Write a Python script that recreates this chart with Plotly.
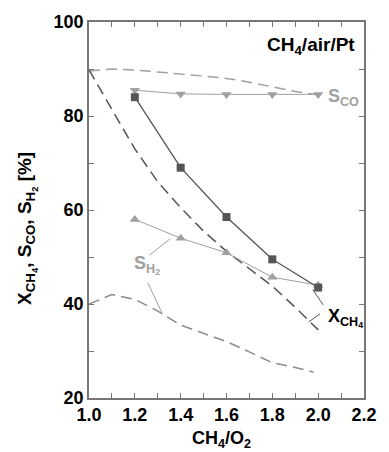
import plotly.graph_objects as go

# Experimental data
ratio_exp = [1.2, 1.4, 1.6, 1.8, 2.0]
x_ch4_exp = [84.0, 69.0, 58.5, 49.5, 43.5]
s_co_exp = [85.5, 84.7, 84.6, 84.6, 84.6]
s_h2_exp = [58.0, 54.0, 50.9, 45.7, 44.0]

# Model curves
ratio_mod = [1.0, 1.1, 1.2, 1.3, 1.4, 1.5, 1.6, 1.7, 1.8, 1.9, 2.0]
x_ch4_mod = [89.8, 81.5, 73.0, 66.0, 60.5, 55.5, 51.2, 47.5, 43.8, 39.3, 34.5]
s_co_mod = [89.6, 90.0, 89.8, 89.4, 89.0, 88.5, 88.0, 87.2, 86.2, 85.2, 84.5]
ratio_h2m = [1.0, 1.1, 1.2, 1.3, 1.4, 1.5, 1.6, 1.7, 1.8, 1.9, 1.98]
s_h2_mod = [40.0, 42.0, 41.0, 38.5, 35.5, 33.8, 32.0, 29.8, 27.5, 26.5, 25.5]

FONT = "Liberation Sans, Arial, sans-serif"
DARK = "#555555"
LIGHT = "#a0a0a0"
MID = "#8c8c8c"

fig = go.Figure()
fig.add_trace(go.Scatter(x=ratio_mod, y=s_co_mod, mode="lines",
                         line=dict(color=LIGHT, width=1.5, dash="11px,6px")))
fig.add_trace(go.Scatter(x=ratio_mod, y=x_ch4_mod, mode="lines",
                         line=dict(color=DARK, width=1.5, dash="11px,6px")))
fig.add_trace(go.Scatter(x=ratio_h2m, y=s_h2_mod, mode="lines",
                         line=dict(color=MID, width=1.5, dash="11px,6px")))
fig.add_trace(go.Scatter(x=ratio_exp, y=s_h2_exp, mode="lines+markers",
                         line=dict(color=LIGHT, width=1),
                         marker=dict(symbol="triangle-up", size=9, color=LIGHT)))
fig.add_trace(go.Scatter(x=ratio_exp, y=s_co_exp, mode="lines+markers",
                         line=dict(color=LIGHT, width=1),
                         marker=dict(symbol="triangle-down", size=9, color=LIGHT)))
fig.add_trace(go.Scatter(x=ratio_exp, y=x_ch4_exp, mode="lines+markers",
                         line=dict(color=DARK, width=1.3),
                         marker=dict(symbol="square", size=8, color=DARK)))

# leader lines
leaders = [
    ((1.976, 43.1), (2.022, 39.8), DARK),
    ((1.959, 36.2), (2.008, 37.9), DARK),
    ((1.264, 50.4), (1.355, 53.9), LIGHT),
    ((1.257, 44.5), (1.32, 37.9), LIGHT),
]
for (x0, y0), (x1, y1), c in leaders:
    fig.add_shape(type="line", xref="x", yref="y", x0=x0, y0=y0, x1=x1, y1=y1,
                  line=dict(color=c, width=1))

bold = dict(family=FONT, size=18, color="black", weight="bold")
annos = [
    dict(text="CH<sub>4</sub>/air/Pt", x=2.17, y=94.8, xanchor="right", yanchor="middle",
         font=dict(family=FONT, size=19, color="black", weight="bold")),
    dict(text="S<sub>CO</sub>", x=2.035, y=84.0, xanchor="left", yanchor="middle",
         font=dict(family=FONT, size=18, color=LIGHT, weight="bold")),
    dict(text="S<sub>H<sub>2</sub></sub>", x=1.255, y=48.3, xanchor="center", yanchor="middle",
         font=dict(family=FONT, size=18, color=LIGHT, weight="bold")),
    dict(text="X<sub>CH<sub>4</sub></sub>", x=2.035, y=37.0, xanchor="left", yanchor="middle",
         font=dict(family=FONT, size=18, color="black", weight="bold")),
]
for a in annos:
    fig.add_annotation(xref="x", yref="y", showarrow=False, **a)

fig.add_annotation(xref="paper", yref="paper", x=-0.225, y=0.45, textangle=-90,
                   text="X<sub>CH<sub>4</sub></sub>, S<sub>CO</sub>, S<sub>H<sub>2</sub></sub> [%]",
                   showarrow=False, xanchor="center", yanchor="middle",
                   font=dict(family=FONT, size=19, color="black", weight="bold"))
fig.add_annotation(xref="paper", yref="paper", x=0.481, y=-0.11,
                   text="CH<sub>4</sub>/O<sub>2</sub>",
                   showarrow=False, xanchor="center", yanchor="middle", font=bold)

axis_common = dict(showgrid=False, zeroline=False, showline=True, linecolor="#777777",
                   linewidth=1.5, mirror="ticks", ticks="inside", ticklen=5,
                   tickcolor="#777777", tickwidth=1, tickfont=bold)
fig.update_xaxes(range=[1.0, 2.2], dtick=0.2, tick0=1.0, tickformat=".1f",
                 minor=dict(dtick=0.1, ticks="inside", ticklen=5, tickcolor="#777777"),
                 **axis_common)
fig.update_yaxes(range=[20, 100], dtick=20, tick0=20,
                 minor=dict(dtick=10, ticks="inside", ticklen=5, tickcolor="#777777"),
                 **axis_common)

fig.update_layout(width=389, height=452, showlegend=False,
                  margin=dict(l=89, r=15, t=13, b=54),
                  plot_bgcolor="white", paper_bgcolor="white",
                  font=dict(family=FONT))
fig.write_html("out.html")
